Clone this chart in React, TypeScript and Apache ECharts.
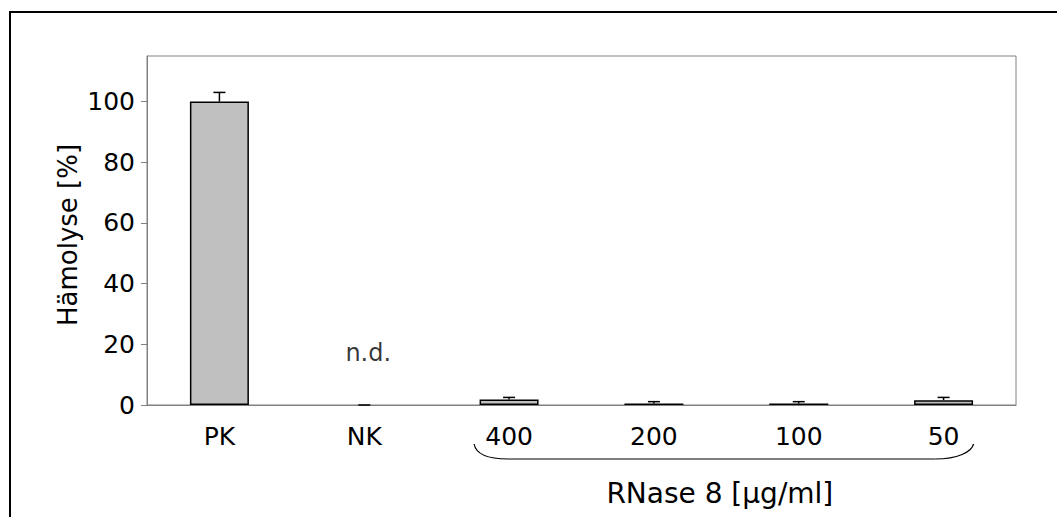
import React, { useEffect, useRef } from "react";
import * as echarts from "echarts";

const categories = ["PK", "NK", "400", "200", "100", "50"];
const values: (number | null)[] = [100, null, 1.8, 0.5, 0.5, 1.6];
const errors = [3, 0, 0.7, 0.6, 0.6, 0.9];
const yTicks = [0, 20, 40, 60, 80, 100];
const yMax = 115;
const ndCategory = "NK";
const ndLevel = 17;
const ndText = "n.d.";
const yTitle = "Hämolyse [%]";
const groupTitle = "RNase 8 [µg/ml]";
const groupFirst = "400";
const groupLast = "50";

const FONT = "DejaVu Sans";

export default function App() {
  const ref = useRef<HTMLDivElement>(null);
  useEffect(() => {
    if (!ref.current) return;
    const chart = echarts.init(ref.current, null, { renderer: "svg" });
    const option: any = {
      animation: false,
      backgroundColor: "#fff",
      textStyle: { fontFamily: FONT, color: "#000" },
      grid: {
        left: 147,
        right: 41,
        top: 56,
        bottom: 112,
        show: true,
        borderColor: "#808080",
        borderWidth: 1,
        backgroundColor: "transparent",
      },
      xAxis: {
        type: "category",
        data: categories,
        axisLine: { show: true, lineStyle: { color: "#808080", width: 1 } },
        axisTick: { show: false },
        axisLabel: { fontSize: 25, color: "#000", margin: 19, fontFamily: FONT },
        splitLine: { show: false },
      },
      yAxis: {
        type: "value",
        min: 0,
        max: yMax,
        interval: 20,
        splitLine: { show: false },
        axisLine: { show: true, lineStyle: { color: "#808080", width: 1 } },
        axisTick: {
          show: true,
          length: 6,
          inside: false,
          customValues: yTicks,
          lineStyle: { color: "#808080" },
        },
        axisLabel: {
          fontSize: 25,
          color: "#000",
          margin: 12,
          fontFamily: FONT,
          customValues: yTicks,
        },
      },
      series: [
        {
          type: "bar",
          data: values.map((v) => (v === null ? "-" : v)),
          barWidth: 59,
          itemStyle: { color: "#c0c0c0", borderColor: "#000", borderWidth: 1.5 },
          z: 2,
        },
        {
          type: "custom",
          z: 3,
          encode: { x: 0, y: 1 },
          data: categories.map((c, i) => [i, values[i] ?? 0, errors[i]]),
          renderItem: (params: any, api: any) => {
            const x = api.value(0);
            const v = api.value(1);
            const e = api.value(2);
            const base = api.coord([x, v]);
            const top = api.coord([x, v + e]);
            return {
              type: "group",
              children: [
                {
                  type: "line",
                  shape: { x1: base[0], y1: base[1], x2: top[0], y2: top[1] },
                  style: { stroke: "#000", lineWidth: 1.5 },
                },
                {
                  type: "line",
                  shape: { x1: top[0] - 6, y1: top[1], x2: top[0] + 6, y2: top[1] },
                  style: { stroke: "#000", lineWidth: 1.5 },
                },
              ],
            };
          },
        },
        {
          type: "scatter",
          data: [[ndCategory, ndLevel]],
          symbolSize: 1,
          itemStyle: { color: "transparent" },
          label: {
            show: true,
            formatter: ndText,
            position: "inside",
            offset: [4, 0],
            fontSize: 24,
            color: "#000",
            fontFamily: FONT,
          },
          z: 4,
        },
      ],
    };
    chart.setOption(option);

    const xa = chart.convertToPixel({ xAxisIndex: 0 }, groupFirst) as number;
    const xb = chart.convertToPixel({ xAxisIndex: 0 }, groupLast) as number;
    const yMid = ((chart.convertToPixel({ yAxisIndex: 0 }, 0) as number) +
      (chart.convertToPixel({ yAxisIndex: 0 }, yMax) as number)) / 2;
    const left = xa - 35;
    const right = xb + 30;
    const top = 444;
    const bottom = 459;
    chart.setOption({
      graphic: [
        {
          type: "rect",
          shape: { x: 10, y: 12, width: 1200, height: 700 },
          style: { fill: "none", stroke: "#000", lineWidth: 2 },
          silent: true,
          z: 10,
        },
        {
          type: "text",
          x: 68,
          y: yMid + 4.5,
          rotation: Math.PI / 2,
          style: {
            text: yTitle,
            fontSize: 26,
            fontFamily: FONT,
            fill: "#000",
            align: "center",
            verticalAlign: "middle",
          },
        },
        {
          type: "bezierCurve",
          shape: {
            x1: left,
            y1: top,
            cpx1: left + 2,
            cpy1: top + 11,
            cpx2: left + 14,
            cpy2: bottom,
            x2: left + 34,
            y2: bottom,
          },
          style: { stroke: "#000", lineWidth: 1.2, fill: "none" },
        },
        {
          type: "line",
          shape: { x1: left + 34, y1: bottom, x2: right - 38, y2: bottom },
          style: { stroke: "#000", lineWidth: 1.2 },
        },
        {
          type: "bezierCurve",
          shape: {
            x1: right - 38,
            y1: bottom,
            cpx1: right - 16,
            cpy1: bottom,
            cpx2: right - 2,
            cpy2: top + 8,
            x2: right,
            y2: top,
          },
          style: { stroke: "#000", lineWidth: 1.2, fill: "none" },
        },
        {
          type: "text",
          x: (left + right) / 2 - 4,
          y: 493,
          style: {
            text: groupTitle,
            fontSize: 28,
            fontFamily: FONT,
            fill: "#000",
            align: "center",
            verticalAlign: "middle",
          },
        },
      ],
    });
    return () => chart.dispose();
  }, []);
  return (
    <div
      ref={ref}
      style={{ position: "absolute", left: 0, top: 0, width: 1057, height: 517, background: "#fff" }}
    />
  );
}
